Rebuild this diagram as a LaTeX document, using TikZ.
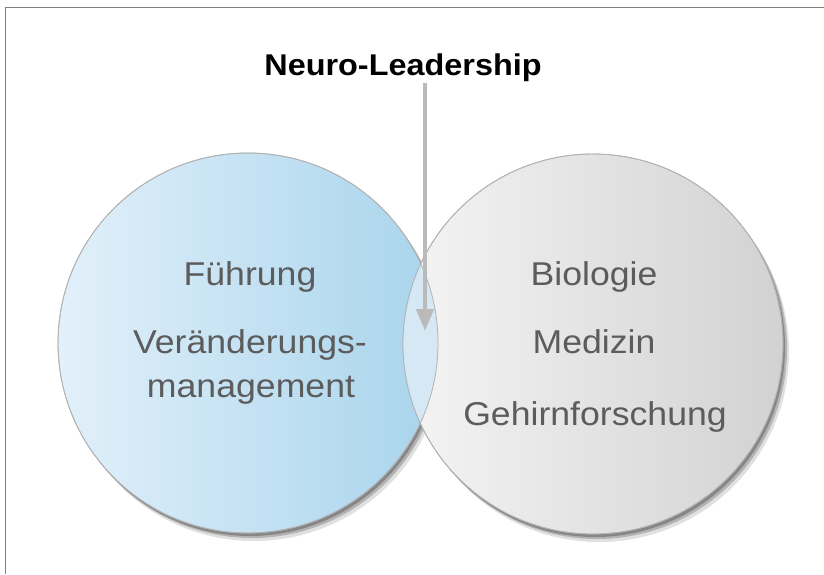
\documentclass[tikz,border=0pt]{standalone}
\usepackage{fontspec}
\setmainfont[FakeStretch=1.08]{Liberation Sans}
\usetikzlibrary{arrows.meta,shadows}

\definecolor{blueleft}{RGB}{226,240,250}
\definecolor{blueright}{RGB}{168,212,236}
\definecolor{grayleft}{RGB}{244,244,244}
\definecolor{grayright}{RGB}{210,210,210}
\definecolor{lensblue}{RGB}{214,232,243}
\definecolor{setline}{RGB}{178,178,178}
\definecolor{labelgray}{RGB}{92,92,92}
\definecolor{arrowgray}{RGB}{186,186,186}
\definecolor{framegray}{RGB}{128,128,128}

\begin{document}
\begin{tikzpicture}[
            x=1pt, y=-1pt,
            set/.style={circle, minimum size=380pt, inner sep=0pt, draw=setline, line width=0.8pt},
            setshadow/.style={
                drop shadow={shadow xshift=6pt, shadow yshift=-8pt, opacity=0.12, fill=black},
                drop shadow={shadow xshift=4pt, shadow yshift=-5pt, opacity=0.2, fill=black},
                drop shadow={shadow xshift=2pt, shadow yshift=-3pt, opacity=0.25, fill=black}},
            label/.style={text=labelgray, font=\fontsize{33}{40}\selectfont, anchor=base, inner sep=0pt},
            leadarrow/.style={draw=arrowgray, line width=4.5pt, -{Triangle[length=22pt, width=17pt]}},
            ]
            \useasboundingbox (0,0) rectangle (824,574);
            \draw[framegray, line width=1.6pt] (5.5,574) -- (5.5,7.5) -- (824,7.5);

            % the two sets
            \node[set, setshadow, left color=blueleft, right color=blueright] (fuehrung) at (248,343) {};
            \node[set, setshadow, left color=grayleft, right color=grayright] (biologie) at (593,344) {};
            \begin{scope}
                \clip (fuehrung.center) circle (190);
                \fill[lensblue] (biologie.center) circle (190);
            \end{scope}
            \draw[setline, line width=0.8pt] (fuehrung.center) circle (190);
            \draw[setline, line width=0.8pt] (biologie.center) circle (190);

            \node[label] (tfuehrung) at (250,285) {Führung};
            \node[label] (tveraend) at (250,353) {Veränderungs-};
            \node[label] (tmgmt) at (251,397) {management};
            \node[label] (tbio) at (594,285) {Biologie};
            \node[label] (tmed) at (594,353) {Medizin};
            \node[label] (tgehirn) at (595,425) {Gehirnforschung};

            \node[font=\bfseries\fontsize{30}{36}\selectfont, anchor=base, inner sep=1.5pt] (title) at (403,75) {Neuro-Leadership};
            \coordinate (lenstip) at (425,331);
            \draw[leadarrow] (lenstip |- title.south) -- (lenstip);
        \end{tikzpicture}
\end{document}
